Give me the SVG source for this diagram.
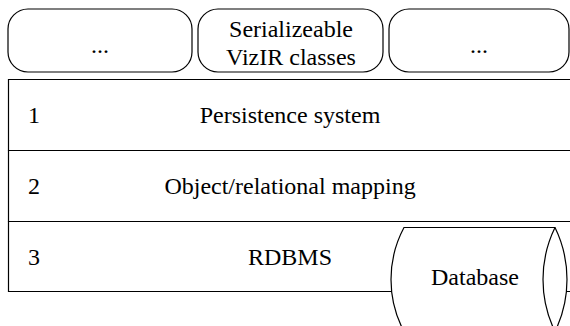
<svg xmlns="http://www.w3.org/2000/svg" width="570" height="326" viewBox="0 0 570 326">
<style>
.box{fill:#fff;stroke:#000;stroke-width:1.2}
.ln{fill:none;stroke:#000;stroke-width:1.2}
.c{text-anchor:middle}
</style>
<rect width="570" height="326" fill="#fff"/>
<g font-family="'Liberation Serif', 'DejaVu Serif', serif" font-size="24" fill="#000">
<g id="box-left">
<rect class="box" x="8" y="9" width="184" height="63" rx="20" ry="20"/>
<text class="c" x="100" y="53">...</text>
</g>
<g id="box-serializeable">
<rect class="box" x="198" y="9" width="185" height="63" rx="20" ry="20"/>
<text class="c" x="291" y="37">Serializeable</text>
<text class="c" x="291" y="65">VizIR classes</text>
</g>
<g id="box-right">
<rect class="box" x="389" y="9" width="180" height="63" rx="20" ry="20"/>
<text class="c" x="479" y="53">...</text>
</g>
<g id="layer-1">
<path class="ln" d="M574 79.5H8.5V150.5H574"/>
<text x="28" y="122.5">1</text>
<text class="c" x="290" y="122.5">Persistence system</text>
</g>
<g id="layer-2">
<path class="ln" d="M8.5 150.5V221.5H574"/>
<text x="28" y="193.5">2</text>
<text class="c" x="290" y="193.5">Object/relational mapping</text>
</g>
<g id="layer-3">
<path class="ln" d="M8.5 221.5V291.5H574"/>
<text x="28" y="264.5">3</text>
<text class="c" x="290" y="264.5">RDBMS</text>
</g>
<g id="database">
<path class="box" d="M404 227.5H555A118.7 118.7 0 0 1 555 331.5H404A110.5 110.5 0 0 1 404 227.5Z"/>
<path class="ln" d="M555 227.5A118.7 118.7 0 0 0 555 331.5"/>
<text class="c" x="475" y="285">Database</text>
</g>
</g>
<g id="connectors"/>
</svg>
